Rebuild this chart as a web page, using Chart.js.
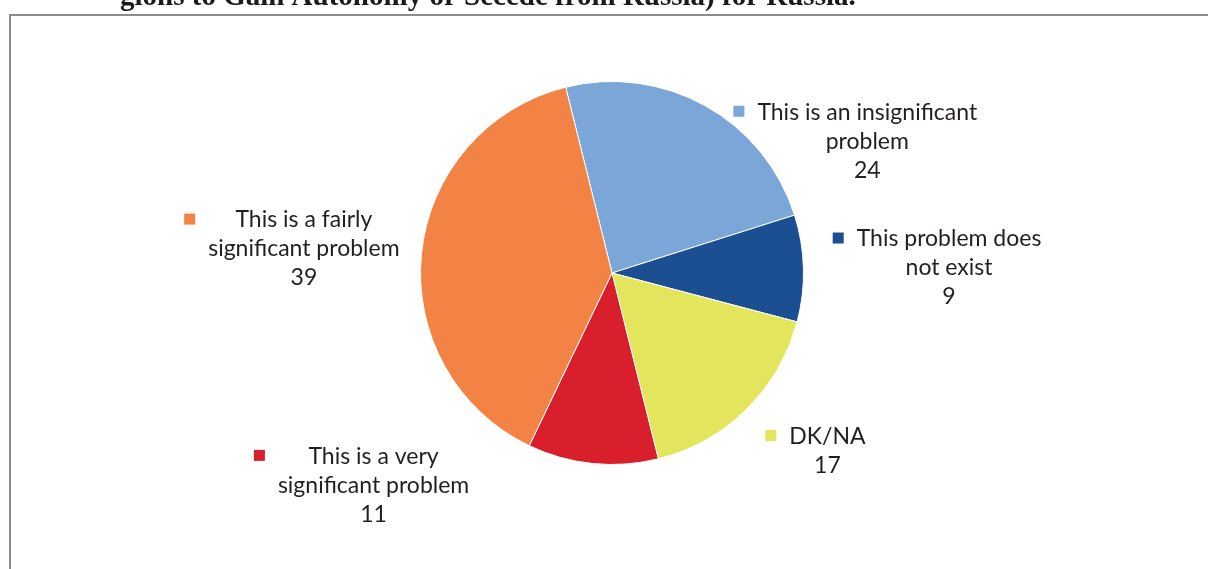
<!DOCTYPE html>
<html>
<head>
<meta charset="utf-8">
<script src="https://cdn.jsdelivr.net/npm/chart.js@4"></script>
<style>
  html, body { margin: 0; padding: 0; background: #ffffff; }
  #wrap { width: 1208px; height: 569px; position: relative; }
</style>
</head>
<body>
<div id="wrap"><canvas id="c" width="1208" height="569"></canvas></div>
<script>
const categories = [
  "This is an insignificant problem",
  "This problem does not exist",
  "DK/NA",
  "This is a very significant problem",
  "This is a fairly significant problem"
];
const values = [24, 9, 17, 11, 39];
const labelLines = [
  ["This is an insignificant", "problem"],
  ["This problem does", "not exist"],
  ["DK/NA"],
  ["This is a very", "significant problem"],
  ["This is a fairly", "significant problem"]
];
const sliceColors = ["#7BA6D8", "#1B4F91", "#E3E65C", "#D91F2B", "#F38245"];
const titleText = "gions to Gain Autonomy or Secede from Russia) for Russia.";

// label block centre, in units of pie radius relative to pie centre
const labelPlacement = [
  [1.333, -0.688],
  [1.760, -0.026],
  [1.125, 0.930],
  [-1.245, 1.109],
  [-1.609, -0.125]
];

const framePlugin = {
  id: 'frame',
  beforeDraw(chart) {
    const ctx = chart.ctx;
    ctx.save();
    ctx.fillStyle = '#ffffff';
    ctx.fillRect(0, 0, chart.width, chart.height);
    ctx.strokeStyle = '#8c8c8c';
    ctx.lineWidth = 2;
    ctx.beginPath();
    ctx.moveTo(10, chart.height);
    ctx.lineTo(10, 15);
    ctx.lineTo(chart.width, 15);
    ctx.stroke();
    ctx.fillStyle = '#1a1a1a';
    ctx.font = "bold 29px 'Liberation Serif'";
    ctx.textBaseline = 'alphabetic';
    ctx.textAlign = 'left';
    ctx.fillText(titleText, 120, 5);
    ctx.restore();
  }
};

const labelPlugin = {
  id: 'sliceLabels',
  afterDraw(chart) {
    const ctx = chart.ctx;
    const meta = chart.getDatasetMeta(0);
    const ds = chart.data.datasets[0];
    const lineH = 29;
    ctx.save();
    ctx.font = "23px Lato";
    ctx.fillStyle = '#231F20';
    ctx.textAlign = 'center';
    ctx.textBaseline = 'middle';
    meta.data.forEach((arc, i) => {
      const r = arc.outerRadius;
      const cx = arc.x + labelPlacement[i][0] * r;
      const cy = arc.y + labelPlacement[i][1] * r;
      const lines = labelLines[i].concat([String(ds.data[i])]);
      const top = cy - (lines.length - 1) * lineH / 2;
      let maxW = 0;
      lines.forEach(l => { maxW = Math.max(maxW, ctx.measureText(l).width); });
      lines.forEach((l, k) => ctx.fillText(l, cx, top + k * lineH));
      // legend key
      const sq = 11;
      const left = cx - maxW / 2;
      ctx.fillStyle = ds.backgroundColor[i];
      ctx.fillRect(left - 13 - sq, top - sq / 2 - 1, sq, sq);
      ctx.fillStyle = '#231F20';
    });
    ctx.restore();
  }
};

new Chart(document.getElementById('c'), {
  type: 'pie',
  data: {
    labels: categories,
    datasets: [{
      data: values,
      backgroundColor: sliceColors,
      borderColor: '#ffffff',
      borderWidth: 1
    }]
  },
  options: {
    responsive: false,
    animation: false,
    rotation: -14,
    layout: { padding: { top: 81, bottom: 104, left: 220, right: 204 } },
    plugins: {
      legend: { display: false },
      tooltip: { enabled: false },
      title: { display: false }
    }
  },
  plugins: [framePlugin, labelPlugin]
});
</script>
</body>
</html>
